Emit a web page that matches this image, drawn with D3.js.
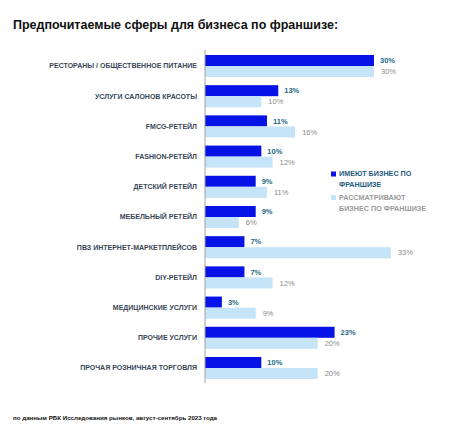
<!DOCTYPE html>
<html><head><meta charset="utf-8">
<script src="https://cdn.jsdelivr.net/npm/d3@7"></script>
<style>body{margin:0;background:#fff}svg{display:block}</style>
</head><body>
<svg id="c" width="474" height="435"></svg>
<script>
const categories = ["РЕСТОРАНЫ / ОБЩЕСТВЕННОЕ ПИТАНИЕ","УСЛУГИ САЛОНОВ КРАСОТЫ","FMCG-РЕТЕЙЛ","FASHION-РЕТЕЙЛ","ДЕТСКИЙ РЕТЕЙЛ","МЕБЕЛЬНЫЙ РЕТЕЙЛ","ПВЗ ИНТЕРНЕТ-МАРКЕТПЛЕЙСОВ","DIY-РЕТЕЙЛ","МЕДИЦИНСКИЕ УСЛУГИ","ПРОЧИЕ УСЛУГИ","ПРОЧАЯ РОЗНИЧНАЯ ТОРГОВЛЯ"];
const haveFranchise = [30,13,11,10,9,9,7,7,3,23,10];
const consideringFranchise = [30,10,16,12,11,6,33,12,9,20,20];
const seriesNames = [["ИМЕЮТ БИЗНЕС ПО","ФРАНШИЗЕ"],["РАССМАТРИВАЮТ","БИЗНЕС ПО ФРАНШИЗЕ"]];
const title = "Предпочитаемые сферы для бизнеса по франшизе:";
const source = "по данным РБК Исследования рынков, август-сентябрь 2023 года";

const svg = d3.select("#c");
const x = d3.scaleLinear().domain([0,30]).range([205,374]);
const y = d3.scaleBand().domain(categories).range([50.9,383.1]).paddingInner(0.27).paddingOuter(0.135);
const sub = d3.scaleBand().domain([0,1]).range([0,y.bandwidth()]);
const colors = ["#0712e6","#c6e4f8"];

svg.append("text").attr("x",13).attr("y",29).attr("font-family","Liberation Sans, Arial, sans-serif")
  .attr("font-weight","bold").attr("font-size",12.5).attr("fill","#111").text(title);

const g = svg.selectAll("g.cat").data(categories).join("g").attr("class","cat")
  .attr("transform",d=>`translate(0,${y(d)})`);

g.append("text").attr("x",197).attr("y",y.bandwidth()/2).attr("dy","0.35em").attr("text-anchor","end")
  .attr("font-family","Liberation Sans, Arial, sans-serif").attr("font-weight","bold").attr("font-size",7)
  .attr("fill","#3a4756").text(d=>d);

const series = [haveFranchise, consideringFranchise];
series.forEach((vals,si)=>{
  g.append("rect").attr("x",x(0)).attr("y",sub(si)).attr("height",sub.bandwidth())
    .attr("width",(d,i)=>x(vals[i])-x(0)).attr("fill",colors[si]);
  g.append("text").attr("x",(d,i)=>x(vals[i])+(si===0?6:7)).attr("y",sub(si)+sub.bandwidth()/2).attr("dy","0.35em")
    .attr("font-family","Liberation Sans, Arial, sans-serif").attr("font-weight",si===0?"bold":"normal")
    .attr("font-size",7.5).attr("fill",si===0?"#236a86":"#8a8a8a").text((d,i)=>vals[i]+"%");
});

svg.append("line").attr("x1",x(0)).attr("x2",x(0)).attr("y1",50).attr("y2",383).attr("stroke","#a0a0a0").attr("stroke-width",1);

// legend
const leg = svg.append("g");
const legY = [171.5,195];
seriesNames.forEach((lines,si)=>{
  leg.append("rect").attr("x",331).attr("y",legY[si]).attr("width",5).attr("height",5).attr("fill",colors[si]);
  lines.forEach((t,li)=>{
    leg.append("text").attr("x",339).attr("y",legY[si]+4.8+li*11)
      .attr("font-family","Liberation Sans, Arial, sans-serif").attr("font-weight","bold").attr("font-size",7.2)
      .attr("fill",si===0?"#1f5a80":"#9a9a9a").text(t);
  });
});

svg.append("text").attr("x",13).attr("y",420).attr("font-family","Liberation Sans, Arial, sans-serif")
  .attr("font-weight","bold").attr("font-size",6.2).attr("fill","#111").text(source);
</script>
</body></html>
